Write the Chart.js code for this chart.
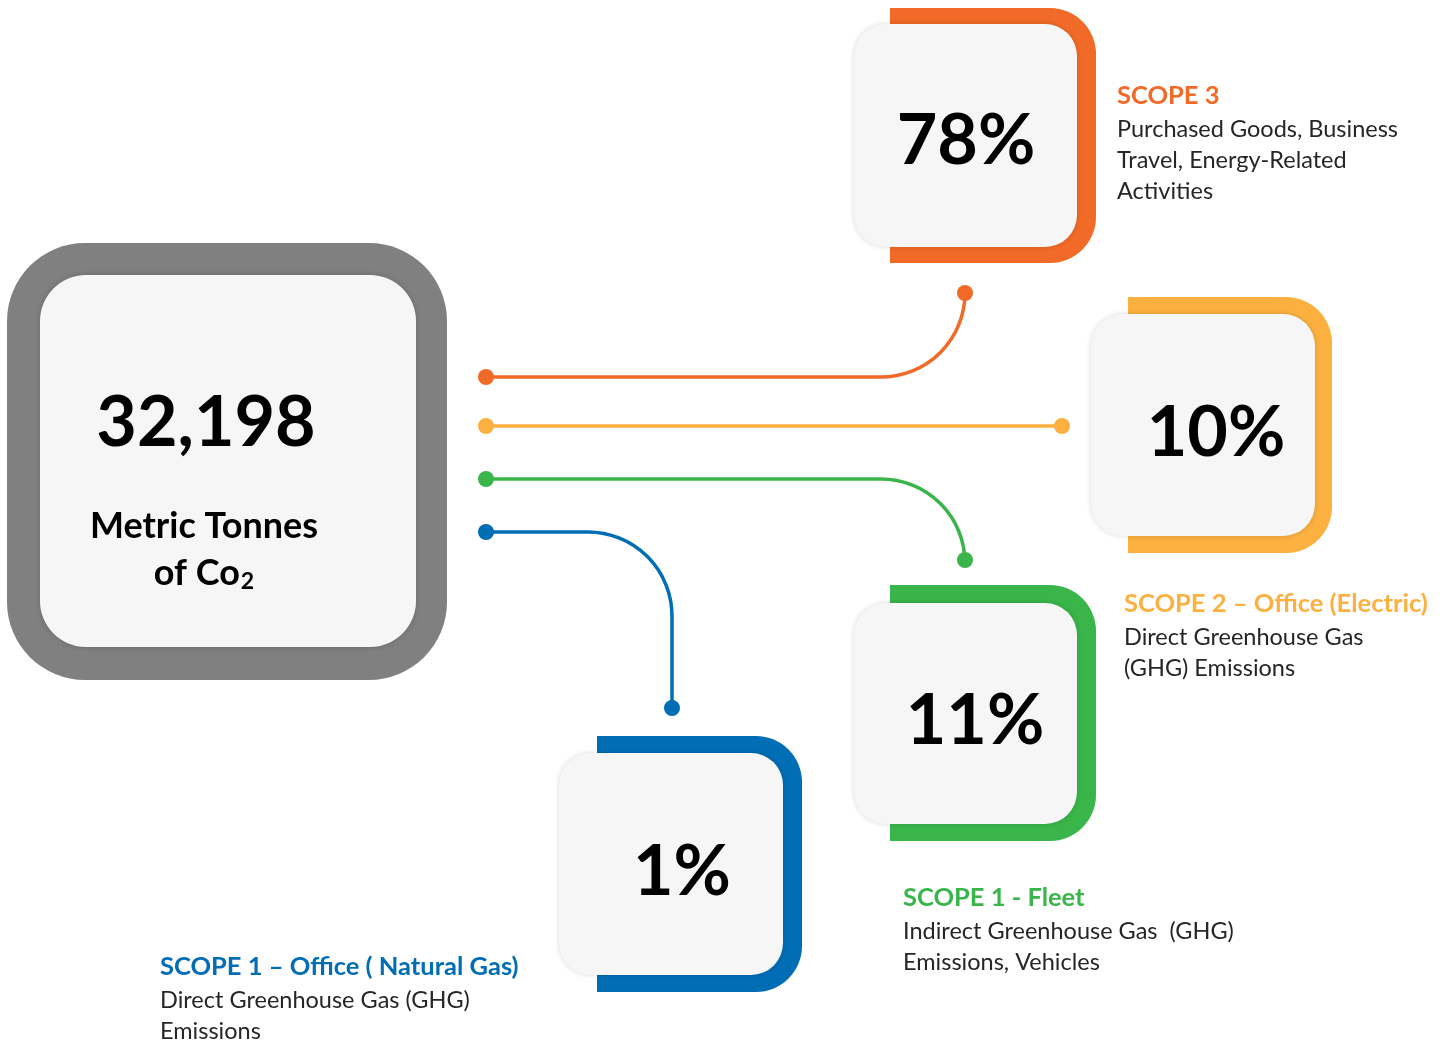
<!DOCTYPE html>
<html>
<head>
<meta charset="utf-8">
<script src="https://cdn.jsdelivr.net/npm/chart.js@4.4.1/dist/chart.umd.min.js"></script>
<style>
  html, body { margin: 0; padding: 0; background: #fff; }
  #wrap { width: 1445px; height: 1040px; }
</style>
</head>
<body>
<div id="wrap"><canvas id="co2Chart" width="1445" height="1040"></canvas></div>
<script>
// data
const totalTonnes = 32198;
const totalUnit = ["Metric Tonnes", "of Co", "2"];
const scopeNames = ["SCOPE 3", "SCOPE 2 – Office (Electric)", "SCOPE 1 - Fleet", "SCOPE 1 – Office ( Natural Gas)"];
const scopeShares = [78, 10, 11, 1];
const scopeDescriptions = [
    ["Purchased Goods, Business", "Travel, Energy-Related", "Activities"],
    ["Direct Greenhouse Gas", "(GHG) Emissions"],
    ["Indirect Greenhouse Gas  (GHG)", "Emissions, Vehicles"],
    ["Direct Greenhouse Gas (GHG)", "Emissions"]
];
const scopeColors = ["#F26A27", "#FBB040", "#39B54A", "#006DB5"];

// layout (page units, mapped through the hidden scales)
const frames = [[890, 8, 1096, 263], [1128, 297, 1332, 553], [890, 585, 1096, 841], [597, 736, 802, 992]];
const cards = [[854, 24, 1077, 247], [1091, 314, 1315, 536], [854, 603, 1077, 824], [559, 753, 783, 975]];
const shareCenters = [[966, 139], [1216, 431], [975, 719], [682, 870]];
const labelPos = [[1117, 104], [1124, 612], [903, 906], [160, 975]];
const connectors = [
    { y: 377, x: 965, endY: 293 },
    { y: 426, x: 1062, endY: 426 },
    { y: 479, x: 965, endY: 560 },
    { y: 532, x: 672, endY: 708 }
];
const connectorStartX = 486;
const FONT = "Lato, 'Open Sans', sans-serif";

function roundRect(ctx, x0, y0, x1, y1, r) {
    ctx.beginPath();
    ctx.moveTo(x0 + r[0], y0);
    ctx.lineTo(x1 - r[1], y0);
    ctx.arcTo(x1, y0, x1, y0 + r[1], r[1]);
    ctx.lineTo(x1, y1 - r[2]);
    ctx.arcTo(x1, y1, x1 - r[2], y1, r[2]);
    ctx.lineTo(x0 + r[3], y1);
    ctx.arcTo(x0, y1, x0, y1 - r[3], r[3]);
    ctx.lineTo(x0, y0 + r[0]);
    ctx.arcTo(x0, y0, x0 + r[0], y0, r[0]);
    ctx.closePath();
}

const infographic = {
    id: "infographic",
    afterDraw(chart) {
        const ctx = chart.ctx;
        const sx = chart.scales.x, sy = chart.scales.y;
        const X = v => sx.getPixelForValue(v);
        const Y = v => sy.getPixelForValue(v);

        ctx.save();

        // big total card
        ctx.fillStyle = "#808080";
        roundRect(ctx, X(7), Y(243), X(447), Y(680), [78, 78, 78, 78]);
        ctx.fill();
        ctx.save();
        ctx.shadowColor = "rgba(0,0,0,0.18)";
        ctx.shadowBlur = 6;
        ctx.fillStyle = "#F6F6F6";
        roundRect(ctx, X(40), Y(275), X(416), Y(647), [46, 46, 46, 46]);
        ctx.fill();
        ctx.restore();

        ctx.fillStyle = "#000";
        ctx.textAlign = "center";
        ctx.textBaseline = "alphabetic";
        ctx.font = "bold 70px " + FONT;
        ctx.fillText(totalTonnes.toLocaleString("en-US"), X(206), Y(446));
        ctx.font = "bold 36px " + FONT;
        ctx.fillText(totalUnit[0], X(204), Y(538));
        ctx.textAlign = "left";
        const w1 = ctx.measureText(totalUnit[1]).width;
        ctx.font = "bold 23px " + FONT;
        const w2 = ctx.measureText(totalUnit[2]).width;
        const left = X(204) - (w1 + w2 + 1) / 2;
        ctx.font = "bold 36px " + FONT;
        ctx.fillText(totalUnit[1], left, Y(585));
        ctx.font = "bold 23px " + FONT;
        ctx.fillText(totalUnit[2], left + w1 + 1, Y(589));

        // connectors
        connectors.forEach((c, i) => {
            ctx.strokeStyle = scopeColors[i];
            ctx.fillStyle = scopeColors[i];
            ctx.lineWidth = 3.5;
            ctx.beginPath();
            ctx.moveTo(X(connectorStartX), Y(c.y));
            if (c.endY === c.y) {
                ctx.lineTo(X(c.x), Y(c.y));
            } else {
                ctx.arcTo(X(c.x), Y(c.y), X(c.x), Y(c.endY), 84);
                ctx.lineTo(X(c.x), Y(c.endY));
            }
            ctx.stroke();
            [[connectorStartX, c.y], [c.x, c.endY]].forEach(p => {
                ctx.beginPath();
                ctx.arc(X(p[0]), Y(p[1]), 8, 0, Math.PI * 2);
                ctx.fill();
            });
        });

        // scope cards
        scopeShares.forEach((share, i) => {
            const f = frames[i], c = cards[i];
            ctx.fillStyle = scopeColors[i];
            roundRect(ctx, X(f[0]), Y(f[1]), X(f[2]), Y(f[3]), [0, 46, 46, 0]);
            ctx.fill();
            ctx.save();
            ctx.shadowColor = "rgba(0,0,0,0.16)";
            ctx.shadowBlur = 5;
            ctx.fillStyle = "#F6F6F6";
            roundRect(ctx, X(c[0]), Y(c[1]), X(c[2]), Y(c[3]), [32, 32, 32, 32]);
            ctx.fill();
            ctx.restore();

            ctx.fillStyle = "#000";
            ctx.textAlign = "center";
            ctx.textBaseline = "alphabetic";
            ctx.font = "bold 70px " + FONT;
            ctx.fillText(share + "%", X(shareCenters[i][0]), Y(shareCenters[i][1] + 25));

            const lp = labelPos[i];
            ctx.textAlign = "left";
            ctx.fillStyle = scopeColors[i];
            ctx.font = "bold 25.5px " + FONT;
            ctx.fillText(scopeNames[i], X(lp[0]), Y(lp[1]));
            ctx.fillStyle = "#262626";
            ctx.font = "23.5px " + FONT;
            scopeDescriptions[i].forEach((line, k) => {
                ctx.fillText(line, X(lp[0]), Y(lp[1] + 33 + k * 31));
            });
        });

        ctx.restore();
    }
};

new Chart(document.getElementById("co2Chart").getContext("2d"), {
    type: "scatter",
    data: { datasets: [{ data: [] }] },
    options: {
        responsive: false,
        animation: false,
        layout: { padding: 0 },
        plugins: { legend: { display: false }, tooltip: { enabled: false } },
        scales: {
            x: { type: "linear", min: 0, max: 1445, display: false },
            y: { type: "linear", min: 0, max: 1040, reverse: true, display: false }
        }
    },
    plugins: [infographic]
});
</script>
</body>
</html>
